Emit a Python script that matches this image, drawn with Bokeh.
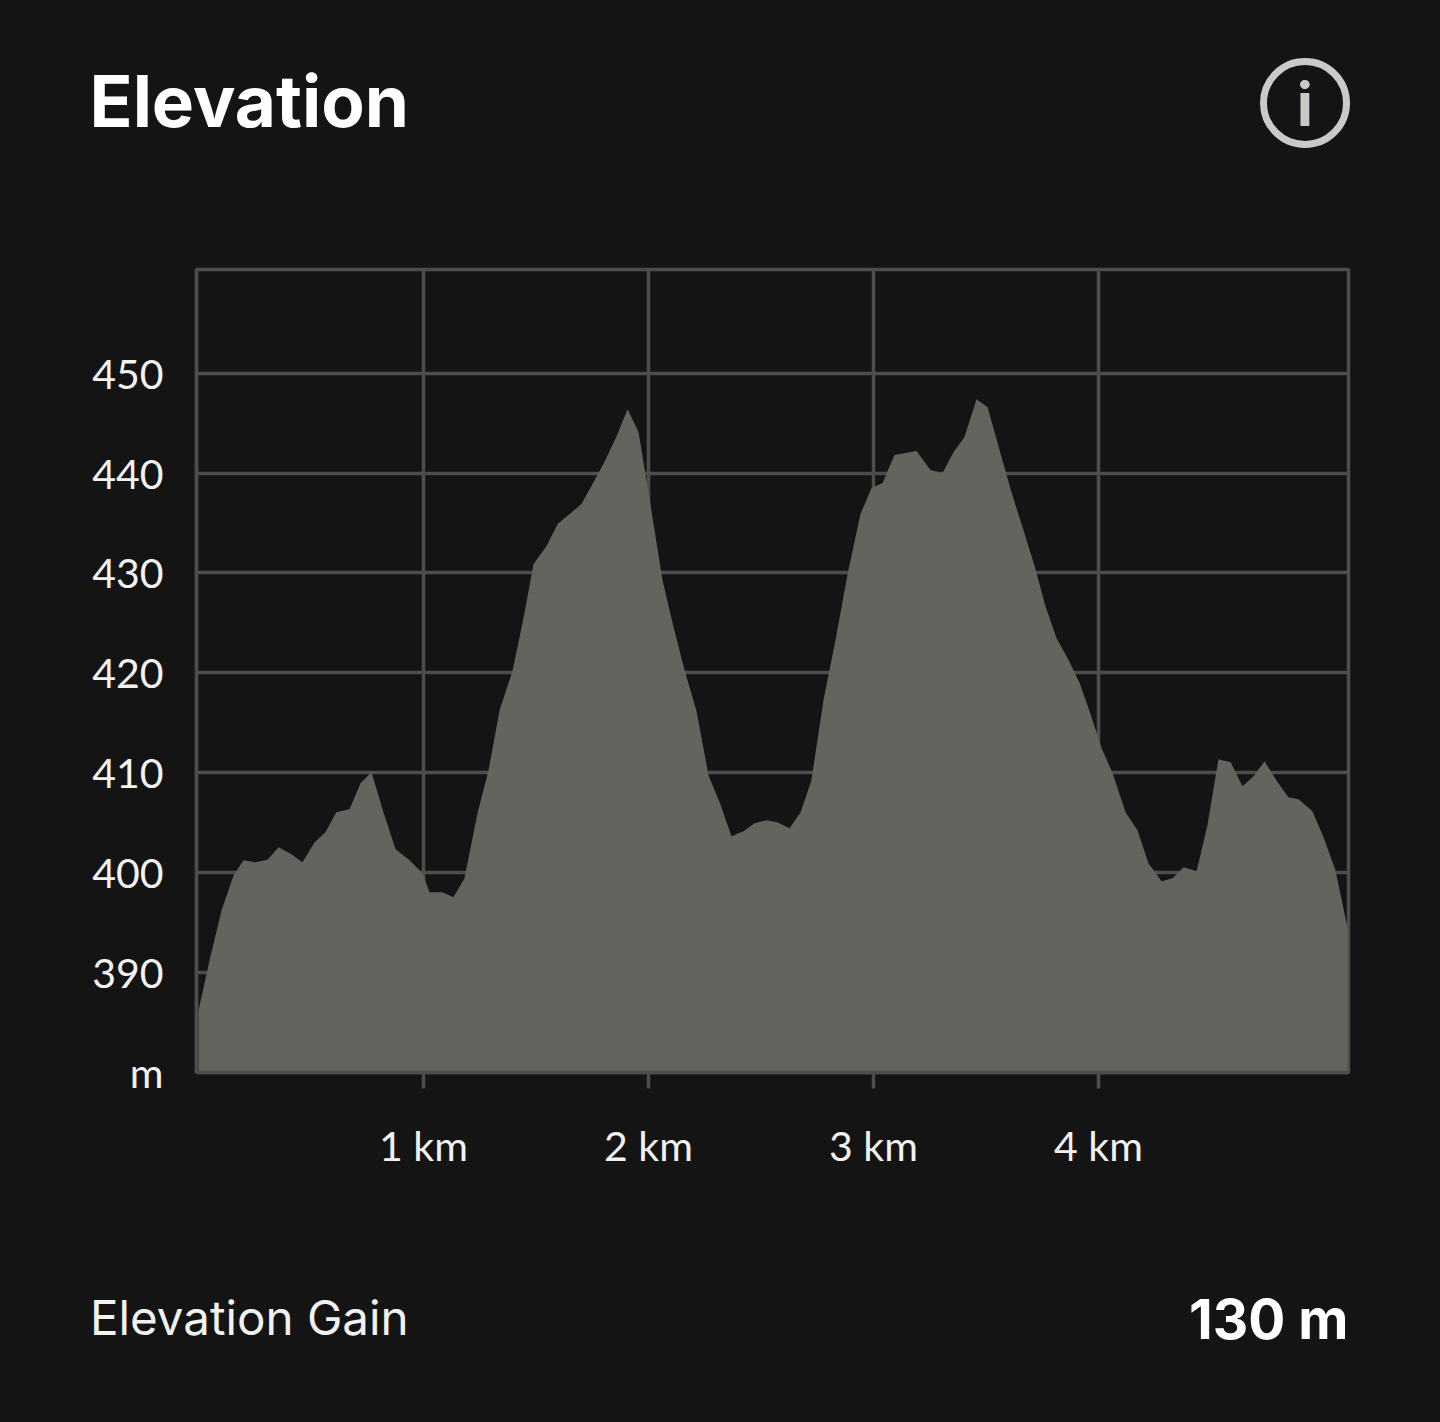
from bokeh.plotting import figure
from bokeh.layouts import column
from bokeh.models import FixedTicker
from bokeh.core.properties import value
from bokeh.embed import file_html
from bokeh.resources import INLINE

distance_km = [0, .049, .102, .156, .2, .253, .307, .356, .413, .462, .516, .564, .613, .671, .72, .769, .822, .876, .933, .996,
    1.027, 1.084, 1.133, 1.182, 1.24, 1.289, 1.338, 1.396, 1.444, 1.489, 1.547, 1.596, 1.649, 1.702, 1.756, 1.804, 1.858, 1.907, 1.956,
    2.009, 2.062, 2.107, 2.16, 2.213, 2.267, 2.316, 2.369, 2.422, 2.471, 2.524, 2.573, 2.627, 2.676, 2.724, 2.778, 2.831, 2.884, 2.942, 2.991,
    3.04, 3.093, 3.191, 3.253, 3.307, 3.356, 3.404, 3.458, 3.507, 3.564, 3.613, 3.662, 3.716, 3.764, 3.813, 3.867, 3.916, 3.964,
    4.013, 4.062, 4.12, 4.173, 4.222, 4.28, 4.329, 4.378, 4.436, 4.484, 4.533, 4.587, 4.64, 4.689, 4.738, 4.796, 4.844, 4.889, 4.951,
    5.0, 5.053, 5.107]
elevation_m = [386.2, 391.2, 396.2, 399.75, 401.25, 401.05, 401.3, 402.55, 401.85, 401.05, 403.05, 404.05, 406.05, 406.35, 408.95, 410.05, 406.05, 402.35, 401.35, 399.95,
    398.05, 398.05, 397.55, 399.45, 405.95, 410.25, 416.25, 420.25, 425.45, 430.9, 432.7, 434.9, 435.9, 436.9, 439.1, 441.1, 443.7, 446.4, 444.1,
    436.8, 429.3, 425, 420.3, 416.2, 409.7, 407.05, 403.65, 404.15, 404.95, 405.25, 405.05, 404.45, 406.05, 409.25, 417.3, 423.3, 429.8, 435.9, 438.5,
    439, 441.8, 442.2, 440.3, 440, 442.1, 443.6, 447.4, 446.6, 442, 438.1, 434.6, 430.7, 426.7, 423.5, 421.3, 419, 415.9,
    412.5, 410, 406.05, 404.25, 400.95, 399.15, 399.45, 400.55, 400.15, 404.75, 411.35, 411.05, 408.65, 409.65, 411.15, 409.05, 407.55, 407.35, 406.15,
    403.55, 400.25, 394.45]
x_ticks = [1, 2, 3, 4]
x_labels = ["1 km", "2 km", "3 km", "4 km"]
y_ticks = [380, 390, 400, 410, 420, 430, 440, 450]
y_labels = ["m", "390", "400", "410", "420", "430", "440", "450"]
title_text = "Elevation"
gain_label = "Elevation Gain"
gain_value = "130 m"

BG = "#141414"
GRID = "#4d4d4b"
FILL = "#64635d"
TEXT = "#f2f2f0"
ICON = "#c9c9c5"
W, H = 1440, 1422
HEAD_H = 250            # page rows 0..250
FOOT_TOP = 1230         # page rows 1230..1422
F_LEFT, F_TOP, F_BOTTOM = 196, 269, 1072


def band(top, bottom):
    f = figure(width=W, height=bottom - top, output_backend="svg", toolbar_location=None,
               x_range=(0, W), y_range=(bottom, top), min_border=0, frame_align=False,
               background_fill_color=BG, border_fill_color=BG, outline_line_color=None,
               x_axis_location=None, y_axis_location=None)
    f.grid.visible = False
    return f


def txt(f, s, x, y, size, align="left", weight="normal", color=TEXT, font="Inter"):
    f.text(x=[x], y=[y], text=[s], text_font=value(font), text_font_size=value(size),
           text_font_style=weight, text_color=color, text_align=align, text_baseline="alphabetic")


head = band(0, HEAD_H)
txt(head, title_text, 89, 100, "71px", weight="bold", color="#ffffff")
head.scatter(x=[1304.5], y=[102.5], size=83, marker="circle", fill_color=None, line_color=ICON, line_width=7)
txt(head, "i", 1304.5, 103, "60px", align="center", weight="bold", color=ICON)

p = figure(width=W, height=FOOT_TOP - HEAD_H, output_backend="svg", toolbar_location=None,
           x_range=(-0.0089, 5.111), y_range=(380, 460.38), frame_align=False,
           min_border_left=F_LEFT, min_border_right=92, min_border_top=F_TOP - HEAD_H,
           min_border_bottom=FOOT_TOP - F_BOTTOM,
           background_fill_color=BG, border_fill_color=BG, outline_line_color=GRID, outline_line_width=3.5)

p.xaxis.ticker = FixedTicker(ticks=x_ticks)
p.xaxis.major_label_overrides = dict(zip(x_ticks, x_labels))
p.yaxis.ticker = FixedTicker(ticks=y_ticks)
p.yaxis.major_label_overrides = dict(zip(y_ticks, y_labels))
p.xaxis.axis_line_color = GRID
p.xaxis.axis_line_width = 3.5
p.yaxis.axis_line_color = GRID
p.yaxis.axis_line_width = 3.5
p.xaxis.major_tick_line_color = GRID
p.xaxis.major_tick_line_width = 3.5
p.xaxis.major_tick_out = 16
p.xaxis.major_tick_in = 0
p.xaxis.minor_tick_line_color = None
p.yaxis.major_tick_line_color = None
p.yaxis.minor_tick_line_color = None
for ax, standoff in ((p.xaxis, 32), (p.yaxis, 27)):
    ax.major_label_text_font = "Lato"
    ax.major_label_text_font_size = "41px"
    ax.major_label_text_color = TEXT
    ax.major_label_standoff = standoff
p.xgrid.ticker = FixedTicker(ticks=x_ticks)
p.ygrid.ticker = FixedTicker(ticks=y_ticks[1:])
p.xgrid.grid_line_color = GRID
p.ygrid.grid_line_color = GRID
p.xgrid.grid_line_width = 3.5
p.ygrid.grid_line_width = 3.5

p.varea(x=distance_km, y1=[380] * len(distance_km), y2=elevation_m, fill_color=FILL)

foot = band(FOOT_TOP, H)
txt(foot, gain_label, 89.5, 1317, "47.5px")
txt(foot, gain_value, 1348, 1318, "55px", align="right", weight="bold", color="#ffffff")

page = column(head, p, foot, spacing=0)
html = file_html(page, INLINE).replace("</head>", "<style>html,body{background:#141414}</style></head>", 1)
open("out.html", "w").write(html)
